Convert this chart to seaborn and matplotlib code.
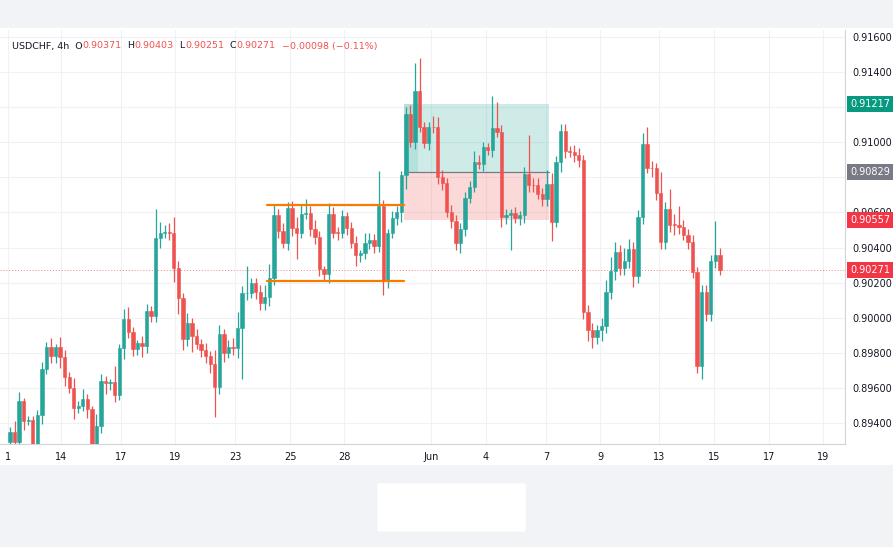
import numpy as np
import pandas as pd
import matplotlib
matplotlib.use("Agg")
from matplotlib import pyplot as plt
from matplotlib.patches import Rectangle, FancyBboxPatch
import seaborn as sns

# closes (4h USDCHF)
first_open = 0.89292
closes = [0.89349, 0.89292, 0.89525, 0.89411, 0.89417, 0.89281, 0.89445, 0.89707, 0.89832, 0.89781,
          0.89832, 0.89775, 0.89661, 0.89599, 0.89485, 0.89497, 0.89536, 0.89479, 0.89281, 0.89383,
          0.89639, 0.89627, 0.89633, 0.89559, 0.89826, 0.89991, 0.89917, 0.89820, 0.89854, 0.89837,
          0.90036, 0.90008, 0.90457, 0.90485, 0.90488, 0.90482, 0.90286, 0.90110, 0.89877, 0.89968,
          0.89894, 0.89849, 0.89815, 0.89781, 0.89735, 0.89604, 0.89906, 0.89798, 0.89832, 0.89830,
          0.89940, 0.90139, 0.90142, 0.90195, 0.90144, 0.90082, 0.90116, 0.90224, 0.90587, 0.90497,
          0.90428, 0.90627, 0.90514, 0.90485, 0.90593, 0.90599, 0.90508, 0.90462, 0.90275, 0.90247,
          0.90593, 0.90485, 0.90483, 0.90582, 0.90514, 0.90428, 0.90355, 0.90366, 0.90423, 0.90445,
          0.90406, 0.90639, 0.90212, 0.90485, 0.90570, 0.90605, 0.90815, 0.91161, 0.91002, 0.91292,
          0.91087, 0.90997, 0.91087, 0.91085, 0.90803, 0.90769, 0.90605, 0.90553, 0.90428, 0.90508,
          0.90684, 0.90747, 0.90889, 0.90877, 0.90974, 0.90957, 0.91082, 0.91059, 0.90576, 0.90587,
          0.90599, 0.90570, 0.90587, 0.90820, 0.90758, 0.90756, 0.90707, 0.90678, 0.90764, 0.90548,
          0.90889, 0.91065, 0.90951, 0.90945, 0.90928, 0.90900, 0.90031, 0.89928, 0.89889, 0.89928,
          0.89951, 0.90144, 0.90264, 0.90372, 0.90286, 0.90326, 0.90389, 0.90235, 0.90576, 0.90991,
          0.90855, 0.90853, 0.90712, 0.90434, 0.90622, 0.90531, 0.90529, 0.90519, 0.90474, 0.90434,
          0.90258, 0.89724, 0.90144, 0.90019, 0.90326, 0.90360, 0.90271]

# wick lengths above / below the body, in 1e-5 units
wick_up = [30, 60, 50, 20, 25, 20, 30, 40, 30, 50,
           20, 60, 40, 30, 60, 30, 60, 30, 20, 70,
           40, 30, 20, 90, 25, 60, 70, 30, 20, 40,
           40, 30, 165, 60, 40, 50, 90, 40, 30, 60,
           30, 40, 30, 40, 30, 80, 50, 30, 40, 50,
           90, 40, 150, 30, 30, 40, 70, 80, 60, 30,
           40, 30, 40, 60, 50, 80, 40, 50, 30, 20,
           60, 40, 30, 30, 20, 30, 40, 20, 60, 40,
           30, 200, 30, 20, 40, 30, 20, 40, 50, 160,
           190, 30, 30, 60, 60, 40, 30, 40, 30, 30,
           30, 30, 60, 40, 30, 20, 180, 150, 40, 30,
           20, 30, 20, 40, 220, 40, 40, 30, 80, 60,
           30, 40, 40, 30, 40, 40, 30, 40, 40, 30,
           50, 70, 80, 60, 40, 70, 60, 40, 40, 60,
           96, 40, 30, 120, 40, 110, 60, 110, 40, 30,
           40, 30, 40, 40, 30, 190, 40]
wick_dn = [20, 30, 20, 50, 20, 30, 30, 50, 30, 40,
           40, 60, 50, 30, 60, 30, 30, 50, 30, 40,
           40, 60, 40, 40, 30, 60, 30, 40, 30, 60,
           40, 30, 30, 60, 30, 40, 80, 90, 60, 40,
           90, 30, 40, 40, 50, 170, 40, 50, 30, 40,
           60, 290, 40, 30, 40, 40, 40, 50, 40, 40,
           30, 40, 50, 150, 30, 30, 40, 40, 40, 30,
           50, 30, 40, 30, 40, 30, 60, 40, 30, 30,
           40, 30, 80, 40, 30, 40, 60, 80, 30, 40,
           30, 30, 40, 30, 40, 40, 30, 40, 40, 60,
           40, 30, 30, 30, 40, 30, 40, 30, 60, 40,
           200, 30, 40, 50, 40, 40, 30, 40, 40, 110,
           30, 60, 40, 30, 40, 40, 40, 60, 60, 40,
           60, 40, 40, 50, 40, 40, 40, 60, 40, 40,
           30, 50, 40, 40, 40, 40, 60, 40, 30, 40,
           30, 40, 75, 40, 40, 40, 30]

date_labels = ["1", "14", "17", "19", "23", "25", "28", "Jun", "4", "7", "9", "13", "15", "17", "19"]
date_pos = [-0.4, 11.2, 24.4, 36.3, 49.5, 61.6, 73.4, 92.5, 104.6, 117.8, 129.7, 142.6, 154.7, 166.8, 178.7]
price_ticks = [0.894, 0.896, 0.898, 0.900, 0.902, 0.904, 0.906, 0.910, 0.914, 0.916]

range_top, range_bot = 0.90644, 0.90212
range_start, range_end = 56.5, 86.5
tp, entry, sl = 0.91217, 0.90829, 0.90557
pos_start, pos_end = 86.6, 118.5
last_price = 0.90271

opens = [first_open] + closes[:-1]
df = pd.DataFrame({"open": opens, "close": closes})
df["high"] = df[["open", "close"]].max(axis=1) + np.array(wick_up) * 1e-5
df["low"] = df[["open", "close"]].min(axis=1) - np.array(wick_dn) * 1e-5
df["up"] = df["close"] >= df["open"]

GREEN, RED = "#26a69a", "#ef5350"

sns.set_style("white")
plt.rcParams["font.family"] = ["DejaVu Sans"]
fig = plt.figure(figsize=(8.93, 5.47), dpi=100, facecolor="#f1f3f6")
W, H = 893, 547
fig.patches.append(Rectangle((0, 1 - 465 / H), 1, (465 - 28) / H, transform=fig.transFigure,
                             facecolor="white", edgecolor="none", zorder=-2))
fig.patches.append(FancyBboxPatch((380 / W, 1 - 530 / H), 143 / W, 45 / H,
                                  boxstyle="round,pad=0.003", transform=fig.transFigure,
                                  facecolor="white", edgecolor="none", zorder=-2))

ax = fig.add_axes([0, 1 - 444 / H, 845 / W, (444 - 30) / H])
ax.set_zorder(1)
ax.set_facecolor("none")
ax.set_xlim(-2.2, 183.5)
ax.set_ylim(0.8928, 0.9164)

for y in np.arange(0.894, 0.9165, 0.002):
    ax.axhline(y, color="#f0f1f4", lw=0.8, zorder=0)
for x in date_pos:
    ax.axvline(x, color="#f0f1f4", lw=0.8, zorder=0)

# position box
ax.add_patch(Rectangle((pos_start, entry), pos_end - pos_start, tp - entry, facecolor=GREEN, alpha=0.22, lw=0, zorder=1))
ax.add_patch(Rectangle((pos_start, sl), pos_end - pos_start, entry - sl, facecolor=RED, alpha=0.22, lw=0, zorder=1))
ax.add_patch(Rectangle((pos_start, entry), 3, tp - entry, facecolor=GREEN, alpha=0.15, lw=0, zorder=1))
ax.plot([pos_start, pos_end], [entry, entry], color="#787b86", lw=0.9, zorder=1)

x = np.arange(len(df))
cols = np.where(df["up"], GREEN, RED)
ax.vlines(x, df["low"].values, df["high"].values, colors=cols, lw=0.9, zorder=2)
body_lo = df[["open", "close"]].min(axis=1).values
body_h = np.maximum((df["close"] - df["open"]).abs().values, 0.00003)
ax.bar(x, body_h, bottom=body_lo, width=0.72, color=cols, edgecolor=cols, linewidth=0.4, zorder=3)

ax.plot([range_start, range_end], [range_top, range_top], color="#f57c00", lw=1.6, zorder=4)
ax.plot([range_start, range_end], [range_bot, range_bot], color="#f57c00", lw=1.6, zorder=4)
ax.axhline(last_price, color=RED, lw=0.7, ls=(0, (1, 2)), alpha=0.7, zorder=1)

for s in ["top", "left"]:
    ax.spines[s].set_visible(False)
ax.spines["bottom"].set_color("#d1d4dc")
ax.spines["right"].set_color("#d1d4dc")
ax.set_xticks(date_pos)
ax.set_xticklabels(date_labels, fontsize=7, color="#131722")
ax.tick_params(axis="x", length=0, pad=6)
ax.yaxis.tick_right()
ax.set_yticks(price_ticks)
ax.set_yticklabels([f"{v:.5f}" for v in price_ticks], fontsize=7, color="#131722")
ax.tick_params(axis="y", length=0, pad=5)

for val, c in [(tp, "#089981"), (entry, "#787b86"), (sl, "#f23645"), (last_price, "#f23645")]:
    ax.text(1.006, val, f"{val:.5f}", transform=ax.get_yaxis_transform(), fontsize=7, color="white",
            va="center", ha="left", bbox=dict(boxstyle="square,pad=0.3", fc=c, ec="none"), zorder=5)

# header
parts = [("USDCHF, 4h  O", "#131722"), ("0.90371", RED), ("  H", "#131722"), ("0.90403", RED),
         ("  L", "#131722"), ("0.90251", RED), ("  C", "#131722"), ("0.90271", RED),
         ("  \u22120.00098 (\u22120.11%)", RED)]
r = fig.canvas.get_renderer()
xp = 12
for txt, c in parts:
    t = fig.text(xp / W, 1 - 46 / H, txt, fontsize=6.8, color=c, va="center")
    xp += t.get_window_extent(r).width

fig.savefig("out.png", dpi=100, facecolor=fig.get_facecolor())
